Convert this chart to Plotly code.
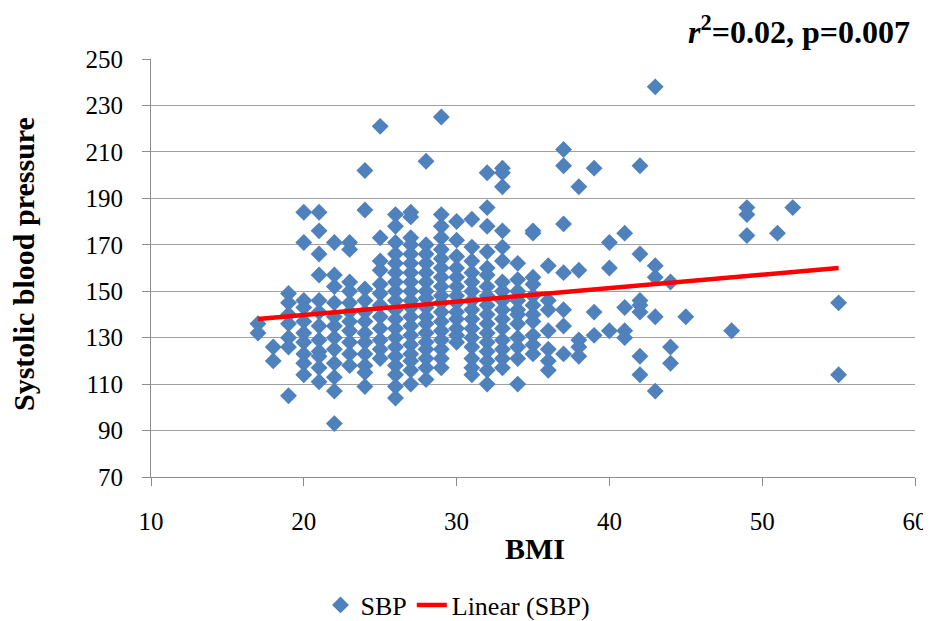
import plotly.graph_objects as go

# ---- data (BMI column -> SBP values) ----
bmi_17 = [136, 132]
bmi_18 = [126, 120]
bmi_19 = [149, 145, 140, 136, 130, 126, 105]
bmi_20 = [184, 171, 146, 143, 137, 132, 128, 123, 119, 114]
bmi_21 = [184, 176, 166, 157, 146, 141, 135, 129, 124, 122, 117, 111]
bmi_22 = [171, 157, 152, 145, 139, 135, 130, 125, 119, 113, 107, 93]
bmi_23 = [171, 168, 154, 150, 145, 141, 137, 133, 128, 123, 118]
bmi_24 = [202, 185, 151, 146, 141, 137, 132, 128, 123, 118, 115, 109]
bmi_25 = [221, 173, 163, 159, 153, 149, 144, 139, 134, 129, 125, 121]
bmi_26 = [183, 178, 171, 166, 162, 158, 154, 150, 146, 142, 138, 134, 130, 126, 122, 118, 114, 109, 104]
bmi_27 = [184, 182, 173, 170, 166, 162, 158, 154, 150, 146, 143, 139, 135, 131, 127, 123, 120, 116, 110]
bmi_28 = [206, 170, 166, 162, 158, 154, 150, 147, 143, 139, 136, 132, 128, 125, 121, 117, 112]
bmi_29 = [225, 183, 178, 173, 168, 164, 160, 156, 152, 148, 145, 141, 137, 133, 129, 125, 121, 117]
bmi_30 = [180, 172, 165, 160, 156, 152, 148, 145, 141, 138, 134, 131, 128]
bmi_31 = [181, 169, 163, 158, 154, 150, 146, 142, 138, 134, 130, 126, 121, 117, 114]
bmi_32 = [201, 186, 178, 167, 160, 157, 152, 148, 144, 140, 136, 132, 128, 124, 120, 116, 110]
bmi_33 = [203, 201, 195, 176, 169, 163, 154, 150, 146, 142, 138, 134, 129, 125, 121, 117]
bmi_34 = [162, 155, 150, 146, 142, 140, 136, 130, 126, 121, 110]
bmi_35 = [176, 175, 156, 153, 148, 144, 140, 137, 131, 127, 123]
bmi_36 = [161, 146, 142, 133, 125, 120, 116]
bmi_37 = [211, 204, 179, 158, 142, 135, 123]
bmi_38 = [195, 159, 129, 126, 122]
bmi_39 = [203, 141, 131]
bmi_40 = [171, 160, 133]
bmi_41 = [175, 143, 133, 130]
bmi_42 = [204, 166, 146, 144, 141, 122, 114]
bmi_43 = [238, 161, 156, 139, 107]
bmi_44 = [154, 126, 119]
bmi_45 = [139]
bmi_48 = [133]
bmi_49 = [186, 183, 174]
bmi_51 = [175]
bmi_52 = [186]
bmi_55 = [145, 114]

columns = {
    17: bmi_17, 18: bmi_18, 19: bmi_19, 20: bmi_20, 21: bmi_21, 22: bmi_22,
    23: bmi_23, 24: bmi_24, 25: bmi_25, 26: bmi_26, 27: bmi_27, 28: bmi_28,
    29: bmi_29, 30: bmi_30, 31: bmi_31, 32: bmi_32, 33: bmi_33, 34: bmi_34,
    35: bmi_35, 36: bmi_36, 37: bmi_37, 38: bmi_38, 39: bmi_39, 40: bmi_40,
    41: bmi_41, 42: bmi_42, 43: bmi_43, 44: bmi_44, 45: bmi_45, 48: bmi_48,
    49: bmi_49, 51: bmi_51, 52: bmi_52, 55: bmi_55,
}

# linear trend line
trend_bmi = [17, 55]
trend_sbp = [138, 160]

x_ticks = [10, 20, 30, 40, 50, 60]
y_ticks = [70, 90, 110, 130, 150, 170, 190, 210, 230, 250]

bmi_vals, sbp_vals = [], []
for b, vals in columns.items():
    for v in vals:
        bmi_vals.append(b)
        sbp_vals.append(v)

FONT = "Liberation Serif"
# the page body has an 8px margin, so the figure is sized to fill the rest
W, H = 923, 613
PL, PT, PR, PB = 143, 51, 16, 144
PW, PH = W - PL - PR, H - PT - PB

fig = go.Figure()
fig.add_trace(go.Scatter(
    x=bmi_vals, y=sbp_vals, mode="markers", name="SBP",
    marker=dict(symbol="diamond", size=13, color="#4F81BD", line=dict(width=0)),
))
fig.add_trace(go.Scatter(
    x=trend_bmi, y=trend_sbp, mode="lines", name="Linear (SBP)",
    line=dict(color="#FF0000", width=4.5),
))

fig.update_layout(
    width=W, height=H,
    margin=dict(l=PL, r=PR, t=PT, b=PB, autoexpand=False),
    paper_bgcolor="white", plot_bgcolor="white",
    font=dict(family=FONT, size=24, color="black"),
    showlegend=True,
    legend=dict(orientation="h", xref="container", yref="container",
                x=450 / W, xanchor="center", y=16 / H, yanchor="middle",
                font=dict(family=FONT, size=26), itemwidth=30, tracegroupgap=0),
    annotations=[
        dict(text="<b><i>r</i><sup>2</sup>=0.02, p=0.007</b>", xref="paper", yref="paper",
             x=(904 - PL) / PW, y=(PT + PH - 22) / PH, xanchor="right", yanchor="middle",
             showarrow=False, font=dict(family=FONT, size=32, color="black")),
        dict(text="<b>Systolic blood pressure</b>", xref="paper", yref="paper",
             x=(16 - PL) / PW, y=(PT + PH - 256) / PH, xanchor="center", yanchor="middle",
             textangle=-90, showarrow=False, font=dict(family=FONT, size=30, color="black")),
        dict(text="<b>BMI</b>", xref="paper", yref="paper",
             x=(527 - PL) / PW, y=(PT + PH - 540) / PH, xanchor="center", yanchor="middle",
             showarrow=False, font=dict(family=FONT, size=30, color="black")),
    ],
)

fig.update_xaxes(
    range=[10, 60], tickvals=x_ticks, showgrid=False, zeroline=False, automargin=False,
    showline=True, linecolor="#8C8C8C", linewidth=1,
    ticks="outside", ticklen=8, tickcolor="#8C8C8C",
    ticklabelstandoff=14, tickfont=dict(family=FONT, size=25, color="black"),
)
fig.update_yaxes(
    range=[70, 250], tickvals=y_ticks, showgrid=True, gridcolor="#A0A0A0", gridwidth=1,
    zeroline=False, showline=True, linecolor="#8C8C8C", linewidth=1, automargin=False,
    ticks="outside", ticklen=8, tickcolor="#8C8C8C",
    ticklabelstandoff=14, tickfont=dict(family=FONT, size=25, color="black"),
)

fig.write_html("out.html")
